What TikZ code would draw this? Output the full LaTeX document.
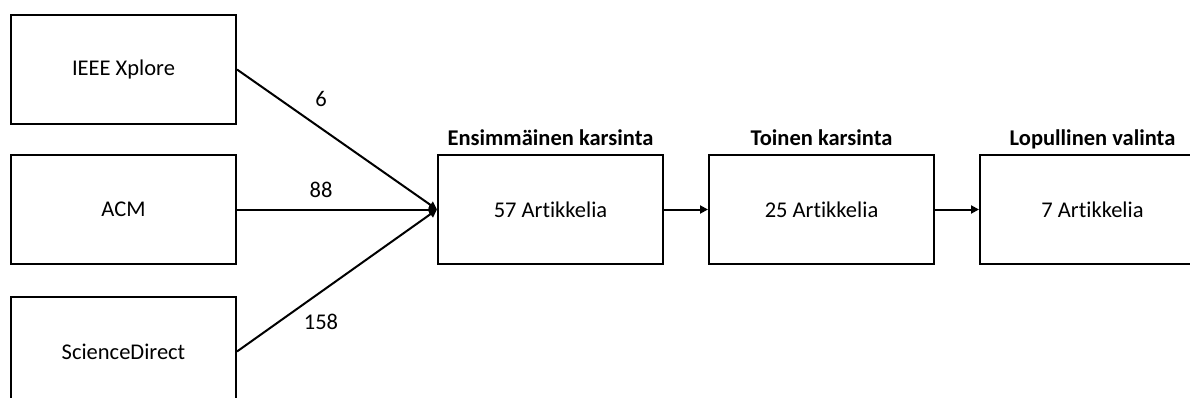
\documentclass[tikz,border=0pt]{standalone}
\usepackage{fontspec}
\setmainfont{Carlito}[Ligatures=NoCommon]
\usetikzlibrary{arrows.meta, positioning}

\begin{document}
\begin{tikzpicture}[
  x=1pt, y=-1pt,
  node distance=29pt and 44pt,
  srcbox/.style={rectangle, draw=black, line width=2pt, minimum width=225pt,
    minimum height=109pt, inner sep=0pt, font=\fontsize{22.5}{27}\selectfont},
  stagebox/.style={srcbox},
  hdr/.style={font=\fontsize{22.5}{27}\selectfont\bfseries, inner sep=0pt},
  num/.style={font=\fontsize{22.5}{27}\selectfont, inner sep=0pt},
  arr/.style={-{Triangle[length=8pt, width=8pt]}, line width=2pt}]
\useasboundingbox (0,0) rectangle (1190,398);
\clip (0,0) rectangle (1190,398);
\node[srcbox] (ieee) at (123.5,69.5) {IEEE Xplore};
\node[srcbox, below=of ieee] (acm) {ACM};
\node[srcbox, below=31pt of acm] (sd) {ScienceDirect};
\node[stagebox] (first) at (550.5,209.5) {57 Artikkelia};
\node[stagebox, right=of first] (second) {25 Artikkelia};
\node[stagebox, right=of second] (final) {7 Artikkelia};
\node[hdr, above=8pt of first.north, anchor=base] (h1) {Ensimmäinen karsinta};
\node[hdr, above=8pt of second.north, anchor=base] (h2) {Toinen karsinta};
\node[hdr, above=8pt of final.north, anchor=base] (h3) {Lopullinen valinta};
\draw[arr] (ieee.east) -- node[num, pos=0.42, yshift=29pt] {6} (first.west);
\draw[arr] (acm.east) -- node[num, pos=0.42, yshift=20pt] {88} (first.west);
\draw[arr] (sd.east) -- node[num, pos=0.42, yshift=-30pt] {158} (first.west);
\draw[arr] (first) -- (second);
\draw[arr] (second) -- (final);
\end{tikzpicture}
\end{document}
